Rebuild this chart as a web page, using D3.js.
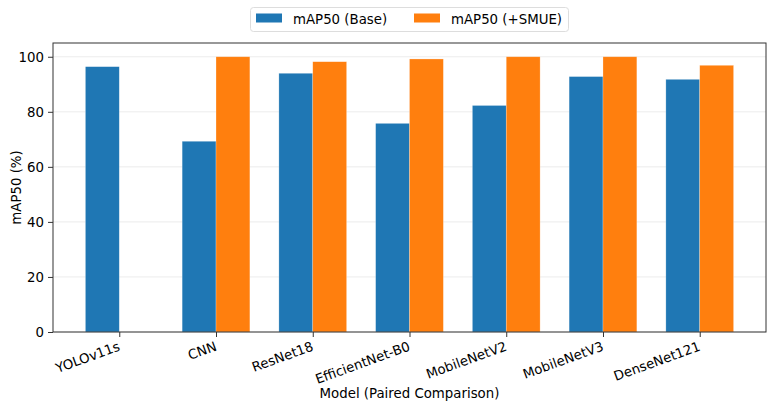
<!DOCTYPE html>
<html>
<head>
<meta charset="utf-8">
<script src="https://cdn.jsdelivr.net/npm/d3@7"></script>
<style>
  body { margin: 0; background: #fff; }
  text { font-family: "DejaVu Sans", sans-serif; }
</style>
</head>
<body>
<div id="vis"></div>
<script>
const models = ["YOLOv11s", "CNN", "ResNet18", "EfficientNet-B0", "MobileNetV2", "MobileNetV3", "DenseNet121"]
const baseValues = [96.4, 69.3, 94.0, 75.8, 82.3, 92.8, 91.8]
const smueValues = [null, 100, 98.2, 99.2, 100, 100, 96.9]
const seriesNames = ["mAP50 (Base)", "mAP50 (+SMUE)"]
const colours = ["#1f77b4", "#ff7f0e"]
const yTicks = [0, 20, 40, 60, 80, 100]

const width = 771
const height = 408
const marginLeft = 53
const marginRight = 5
const marginTop = 43
const marginBottom = 76
const fontSize = 13.33

const innerW = width - marginLeft - marginRight
const innerH = height - marginTop - marginBottom

const svg = d3.select("#vis")
    .append("svg")
    .attr("width", width)
    .attr("height", height)

const container = svg.append("g")
    .attr("transform", `translate(${marginLeft}, ${marginTop})`)

const barW = 0.35
const n = models.length
const pad = (n - 1 + 2 * barW) * 0.05
const xScale = d3.scaleLinear([-barW - pad, n - 1 + barW + pad], [0, innerW])
const yScale = d3.scaleLinear([0, 105], [innerH, 0])

// grid
container.selectAll("line.grid")
    .data(yTicks)
    .join("line")
        .attr("class", "grid")
        .attr("x1", 0)
        .attr("x2", innerW)
        .attr("y1", d => yScale(d))
        .attr("y2", d => yScale(d))
        .attr("stroke", "#b0b0b0")
        .attr("stroke-opacity", 0.3)
        .attr("stroke-width", 0.8)

const rows = models.map((m, i) => ({ model: m, i, base: baseValues[i], smue: smueValues[i] }))

container.selectAll("rect.base")
    .data(rows)
    .join("rect")
        .attr("class", "base")
        .attr("x", d => xScale(d.i - barW))
        .attr("width", d => xScale(barW) - xScale(0))
        .attr("y", d => yScale(d.base))
        .attr("height", d => innerH - yScale(d.base))
        .attr("fill", colours[0])
        .attr("stroke", "#fff")
        .attr("stroke-opacity", 0.4)
        .attr("stroke-width", 0.6)

container.selectAll("rect.smue")
    .data(rows.filter(d => d.smue != null))
    .join("rect")
        .attr("class", "smue")
        .attr("x", d => xScale(d.i))
        .attr("width", d => xScale(barW) - xScale(0))
        .attr("y", d => yScale(d.smue))
        .attr("height", d => innerH - yScale(d.smue))
        .attr("fill", colours[1])
        .attr("stroke", "#fff")
        .attr("stroke-opacity", 0.4)
        .attr("stroke-width", 0.6)

// axes
const axisL = d3.axisLeft(yScale).tickValues(yTicks).tickSize(5).tickPadding(4)
const axisB = d3.axisBottom(xScale).tickValues(d3.range(n)).tickFormat(i => models[i]).tickSize(5).tickPadding(4)

const yAxis = container.append("g").call(axisL)
yAxis.select(".domain").remove()
yAxis.selectAll("text").attr("font-size", fontSize).attr("fill", "#000")
yAxis.selectAll("line").attr("stroke", "#333")

const xAxis = container.append("g")
    .attr("transform", `translate(0, ${innerH})`)
    .call(axisB)
xAxis.select(".domain").remove()
xAxis.selectAll("line").attr("stroke", "#333")
xAxis.selectAll("text")
    .attr("font-size", fontSize)
    .attr("fill", "#000")
    .attr("text-anchor", "end")
    .attr("y", 0)
    .attr("dy", 0)
    .attr("transform", "translate(1,18) rotate(-20)")

// frame
container.append("rect")
    .attr("width", innerW)
    .attr("height", innerH)
    .attr("fill", "none")
    .attr("stroke", "#333")
    .attr("stroke-width", 1)

// axis titles
svg.append("text")
    .attr("x", marginLeft + innerW / 2)
    .attr("y", 398)
    .attr("text-anchor", "middle")
    .attr("font-size", fontSize)
    .text("Model (Paired Comparison)")

svg.append("text")
    .attr("transform", `translate(20.5, ${marginTop + innerH / 2}) rotate(-90)`)
    .attr("text-anchor", "middle")
    .attr("font-size", fontSize)
    .text("mAP50 (%)")

// legend
const legend = svg.append("g")
legend.append("rect")
    .attr("x", 250.5)
    .attr("y", 7.5)
    .attr("width", 318)
    .attr("height", 24)
    .attr("rx", 3)
    .attr("fill", "#fff")
    .attr("stroke", "#ddd")

const legendX = [256, 414]
legend.selectAll("rect.legend-swatch")
    .data(seriesNames)
    .join("rect")
        .attr("class", "legend-swatch")
        .attr("x", (d, i) => legendX[i])
        .attr("y", 13.5)
        .attr("width", 26)
        .attr("height", 9)
        .attr("fill", (d, i) => colours[i])

legend.selectAll("text.legend-label")
    .data(seriesNames)
    .join("text")
        .attr("class", "legend-label")
        .attr("x", (d, i) => legendX[i] + 37)
        .attr("y", 23.5)
        .attr("font-size", fontSize)
        .text(d => d)
</script>
</body>
</html>
